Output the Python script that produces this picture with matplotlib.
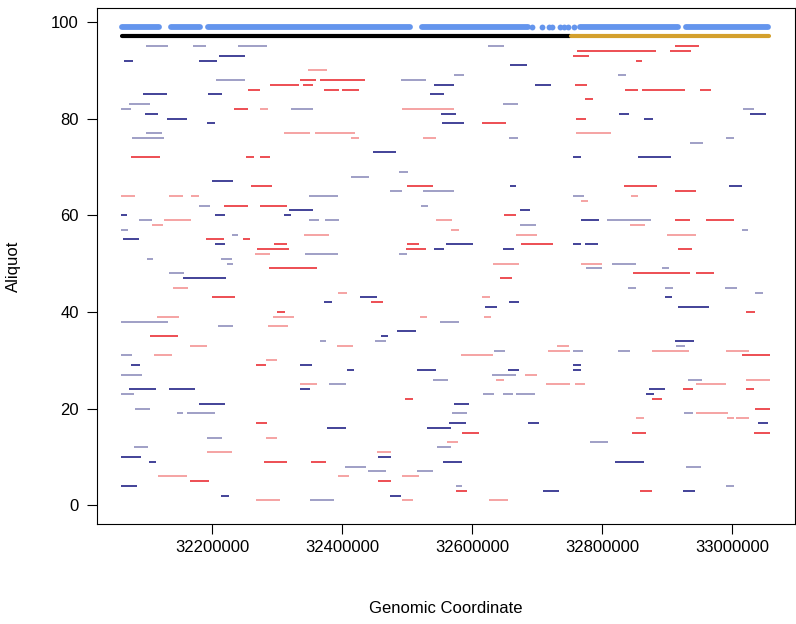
import matplotlib
matplotlib.use("Agg")
import matplotlib.pyplot as plt

plt.rcParams['font.family'] = ['Liberation Sans', 'DejaVu Sans']

# ---- data (genomic coordinates in kb) ----
x_ticks = [32200, 32400, 32600, 32800, 33000]
y_ticks = [0, 20, 40, 60, 80, 100]

# dense runs of marker dots at aliquot 99 (start, end)
dot_runs = [(32062, 32118), (32137, 32182), (32194, 32504), (32523, 32686),
            (32766, 32917), (32929, 33056)]
dot_single = [32692, 32708, 32718, 32723, 32735, 32741, 32748, 32757]
dot_row = 99

# summary bar at aliquot 97
black_bar = (32062, 32750)
gold_bar = (32752, 33057)
bar_row = 97

# segments: (aliquot, start, end)
dark_blue = [
    (92, 32065, 32078), (92, 32180, 32208), (93, 32210, 32250), (91, 32658, 32684),
    (87, 32541, 32572), (87, 32697, 32721),
    (85, 32093, 32131), (85, 32194, 32216), (85, 32536, 32557),
    (81, 32097, 32117), (81, 32552, 32576), (81, 32826, 32842), (81, 33028, 33052),
    (80, 32131, 32162), (80, 32865, 32879),
    (79, 32192, 32205), (79, 32554, 32588),
    (73, 32448, 32483),
    (72, 32755, 32768), (72, 32856, 32906),
    (67, 32200, 32232),
    (66, 32658, 32667), (66, 32996, 33015),
    (61, 32319, 32355), (61, 32674, 32689),
    (60, 32060, 32069), (60, 32205, 32220), (60, 32311, 32322),
    (59, 32768, 32795),
    (55, 32063, 32088),
    (54, 32205, 32220), (54, 32560, 32602), (54, 32755, 32767), (54, 32774, 32794),
    (53, 32542, 32557), (53, 32647, 32664),
    (47, 32155, 32221),
    (43, 32428, 32454), (43, 32897, 32908),
    (42, 32372, 32385), (42, 32657, 32672),
    (41, 32620, 32638), (41, 32917, 32964),
    (36, 32484, 32514),
    (35, 32460, 32470),
    (34, 32913, 32941),
    (29, 32076, 32089), (29, 32335, 32353), (29, 32755, 32768),
    (28, 32408, 32419), (28, 32515, 32544), (28, 32655, 32672), (28, 32755, 32768),
    (24, 32072, 32113), (24, 32133, 32174), (24, 32335, 32351), (24, 32872, 32897),
    (23, 32868, 32880),
    (21, 32180, 32220), (21, 32572, 32595),
    (17, 32565, 32590), (17, 32686, 32703), (17, 33040, 33055),
    (16, 32377, 32406), (16, 32531, 32567),
    (10, 32060, 32090), (10, 32456, 32476),
    (9, 32103, 32113), (9, 32556, 32584), (9, 32820, 32864),
    (4, 32060, 32085),
    (3, 32709, 32734), (3, 32925, 32943),
    (2, 32214, 32226), (2, 32474, 32491),
]

light_blue = [
    (95, 32099, 32132), (95, 32171, 32191), (95, 32240, 32284), (95, 32624, 32649),
    (89, 32573, 32587), (89, 32825, 32837),
    (88, 32206, 32250), (88, 32490, 32529),
    (83, 32072, 32105), (83, 32648, 32670),
    (82, 32060, 32076), (82, 32321, 32355), (82, 33017, 33034),
    (77, 32099, 32123),
    (76, 32077, 32126), (76, 32657, 32670), (76, 32990, 33003),
    (75, 32936, 32955),
    (69, 32488, 32502), (68, 32414, 32441),
    (65, 32474, 32492), (65, 32525, 32572),
    (64, 32349, 32393), (64, 32755, 32772),
    (62, 32180, 32197), (62, 32522, 32533),
    (59, 32087, 32107), (59, 32349, 32365), (59, 32374, 32395), (59, 32807, 32876),
    (58, 32674, 32699),
    (57, 32060, 32070), (57, 33016, 33025),
    (56, 32231, 32240),
    (52, 32343, 32393), (52, 32488, 32500),
    (51, 32100, 32109), (51, 32214, 32231),
    (50, 32223, 32232), (50, 32816, 32852),
    (49, 32775, 32800), (49, 32892, 32903),
    (48, 32133, 32157),
    (45, 32840, 32852), (45, 32897, 32909), (45, 32989, 33007),
    (44, 33036, 33047),
    (38, 32060, 32132), (38, 32550, 32580),
    (37, 32209, 32232),
    (34, 32366, 32376), (34, 32450, 32468),
    (33, 32914, 32927),
    (32, 32634, 32650), (32, 32755, 32771), (32, 32825, 32843),
    (31, 32060, 32077),
    (27, 32060, 32092), (27, 32631, 32668),
    (26, 32540, 32563), (26, 32933, 32954),
    (25, 32380, 32406),
    (23, 32060, 32080), (23, 32617, 32634), (23, 32648, 32663), (23, 32667, 32697),
    (20, 32081, 32104),
    (19, 32146, 32155), (19, 32162, 32205), (19, 32569, 32592), (19, 32926, 32940),
    (14, 32192, 32215),
    (13, 32782, 32809),
    (12, 32080, 32101), (12, 32546, 32567),
    (8, 32404, 32437), (8, 32929, 32953),
    (7, 32440, 32468), (7, 32516, 32540),
    (4, 32575, 32585), (4, 32991, 33003),
    (1, 32351, 32388),
]

dark_red = [
    (95, 32913, 32949),
    (94, 32762, 32883), (94, 32905, 32937),
    (93, 32755, 32780),
    (92, 32853, 32862),
    (88, 32336, 32360), (88, 32366, 32435),
    (87, 32289, 32334), (87, 32340, 32355), (87, 32758, 32777),
    (86, 32256, 32273), (86, 32372, 32396), (86, 32400, 32426), (86, 32836, 32856),
    (86, 32862, 32928), (86, 32950, 32967),
    (84, 32774, 32786),
    (82, 32234, 32256),
    (80, 32760, 32775),
    (79, 32615, 32652),
    (72, 32076, 32120), (72, 32252, 32265), (72, 32274, 32289),
    (66, 32260, 32292), (66, 32500, 32540), (66, 32834, 32884),
    (65, 32913, 32945),
    (62, 32218, 32255), (62, 32273, 32315),
    (60, 32649, 32667),
    (59, 32913, 32936), (59, 32960, 33003),
    (55, 32190, 32218), (55, 32247, 32258),
    (54, 32296, 32315), (54, 32500, 32519), (54, 32676, 32725),
    (53, 32269, 32319), (53, 32499, 32529), (53, 32917, 32938),
    (49, 32288, 32362),
    (48, 32847, 32935), (48, 32945, 32972),
    (47, 32643, 32662),
    (43, 32200, 32235),
    (42, 32444, 32463),
    (40, 32300, 32312), (40, 33022, 33035),
    (35, 32105, 32148),
    (31, 33016, 33059),
    (29, 32267, 32283),
    (24, 32925, 32940), (24, 33022, 33034),
    (22, 32497, 32509), (22, 32877, 32892),
    (20, 33035, 33058),
    (17, 32268, 32285),
    (15, 32584, 32611), (15, 32846, 32867), (15, 33034, 33059),
    (9, 32280, 32316), (9, 32352, 32375),
    (5, 32166, 32196), (5, 32456, 32475),
    (3, 32575, 32593), (3, 32858, 32877),
]

light_red = [
    (90, 32347, 32377),
    (82, 32274, 32286), (82, 32493, 32572),
    (77, 32311, 32351), (77, 32359, 32420), (77, 32760, 32814),
    (76, 32414, 32426), (76, 32524, 32544),
    (64, 32060, 32082), (64, 32134, 32155), (64, 32167, 32180), (64, 32844, 32856),
    (63, 32767, 32778),
    (59, 32126, 32168), (59, 32545, 32569),
    (58, 32108, 32125), (58, 32843, 32866),
    (57, 32568, 32580),
    (56, 32342, 32380), (56, 32668, 32700), (56, 32900, 32944),
    (52, 32266, 32289),
    (50, 32633, 32672), (50, 32767, 32800),
    (45, 32140, 32163),
    (44, 32393, 32408),
    (43, 32616, 32627),
    (39, 32115, 32149), (39, 32293, 32326), (39, 32520, 32531), (39, 32618, 32629),
    (37, 32286, 32317),
    (33, 32166, 32192), (33, 32392, 32417), (33, 32730, 32749),
    (32, 32717, 32750), (32, 32877, 32934), (32, 32990, 33026),
    (31, 32110, 32139), (31, 32583, 32632),
    (30, 32283, 32300),
    (27, 32682, 32700),
    (26, 32637, 32649), (26, 33022, 33059),
    (25, 32335, 32361), (25, 32714, 32750), (25, 32758, 32774), (25, 32944, 32990),
    (19, 32945, 32994),
    (18, 32853, 32865), (18, 32993, 33003), (18, 33006, 33026),
    (14, 32283, 32300),
    (13, 32562, 32578),
    (11, 32192, 32230), (11, 32454, 32476),
    (6, 32117, 32162), (6, 32394, 32410), (6, 32493, 32518),
    (1, 32267, 32304), (1, 32492, 32509), (1, 32626, 32656),
]

KB = 1000

fig = plt.figure(figsize=(7.96, 6.24), dpi=100)
ax = fig.add_axes([0.1219, 0.1595, 0.8769, 0.8283])

def draw(segs, color):
    for row, s, e in segs:
        ax.plot([s * KB, e * KB], [row, row], color=color, lw=1.1,
                solid_capstyle='butt')

draw(light_blue, '#8585b6')
draw(light_red, '#f28a8a')
draw(dark_blue, '#10107c')
draw(dark_red, '#e81e24')

# marker dots row
dot_col = '#6495ed'
for s, e in dot_runs:
    ax.plot([s * KB, e * KB], [dot_row, dot_row], color=dot_col, lw=4.2,
            solid_capstyle='round')
ax.plot([x * KB for x in dot_single], [dot_row] * len(dot_single), 'o',
        color=dot_col, ms=4.2, mew=0)

ax.plot([black_bar[0] * KB, black_bar[1] * KB], [bar_row, bar_row],
        color='black', lw=3.0, solid_capstyle='round')
ax.plot([gold_bar[0] * KB, gold_bar[1] * KB], [bar_row, bar_row],
        color='#d4a02c', lw=3.0, solid_capstyle='round')

ax.set_xlim(32023 * KB, 33097 * KB)
ax.set_ylim(-3.96, 102.96)
ax.set_xticks([t * KB for t in x_ticks])
ax.set_xticklabels([str(t * KB) for t in x_ticks])
ax.set_yticks(y_ticks)
ax.set_yticklabels([str(t) for t in y_ticks])
ax.tick_params(direction='out', length=7, width=0.8, labelsize=12, pad=4)
ax.tick_params(axis='y', pad=6)
for sp in ax.spines.values():
    sp.set_linewidth(0.8)

ax.set_xlabel('Genomic Coordinate', fontsize=12, labelpad=33)
ax.set_ylabel('Aliquot', fontsize=12, labelpad=22)

fig.savefig('out.png', dpi=100)
